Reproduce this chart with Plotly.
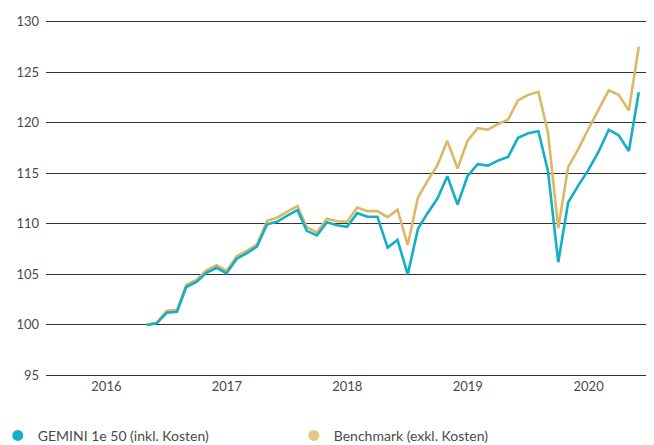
import pandas as pd
import plotly.graph_objects as go

# Monthly index values (start = 100), Nov 2016 .. Dec 2020
months = pd.date_range("2016-11-01", periods=50, freq="MS")

gemini = [100.0, 100.15, 101.2, 101.3, 103.75, 104.25, 105.15, 105.65, 105.1, 106.55,
          107.1, 107.75, 109.95, 110.2, 110.8, 111.35, 109.3, 108.85, 110.15, 109.85,
          109.7, 111.05, 110.7, 110.7, 107.65, 108.4, 105.0, 109.5, 111.0, 112.5,
          114.7, 111.9, 114.7, 115.9, 115.75, 116.25, 116.6, 118.5, 118.95, 119.15,
          115.2, 106.2, 112.1, 113.8, 115.3, 117.1, 119.3, 118.75, 117.2, 123.0]

benchmark = [100.0, 100.2, 101.4, 101.5, 103.95, 104.45, 105.4, 105.9, 105.35, 106.8,
             107.35, 107.95, 110.3, 110.6, 111.2, 111.75, 109.65, 109.15, 110.5, 110.25,
             110.2, 111.6, 111.25, 111.25, 110.65, 111.4, 107.9, 112.6, 114.2, 115.8,
             118.2, 115.45, 118.2, 119.45, 119.3, 119.85, 120.3, 122.2, 122.75, 123.05,
             119.0, 109.55, 115.6, 117.4, 119.35, 121.2, 123.2, 122.75, 121.2, 127.5]

year_labels = ["2016", "2017", "2018", "2019", "2020"]
year_ticks = [f"{y}-07-02" for y in year_labels]
y_ticks = [95, 100, 105, 110, 115, 120, 125, 130]

names = ["GEMINI 1e 50 (inkl. Kosten)", "Benchmark (exkl. Kosten)"]
line_colors = ["#13afc6", "#dcb866"]
dot_colors = ["#13afc6", "#e2c887"]

fig = go.Figure()
fig.add_trace(go.Scatter(x=months, y=benchmark, mode="lines", showlegend=False,
                         line=dict(color=line_colors[1], width=2.6), name=names[1]))
fig.add_trace(go.Scatter(x=months, y=gemini, mode="lines", showlegend=False,
                         line=dict(color=line_colors[0], width=2.6), name=names[0]))
# legend entries (circle markers)
for n, c in zip(names, dot_colors):
    fig.add_trace(go.Scatter(x=[None], y=[None], mode="markers", name=n,
                             marker=dict(color=c, size=11, symbol="circle")))

# page has an 8px body margin, so the figure is sized/offset to compensate
fig.update_layout(
    width=646, height=437,
    margin=dict(l=38, r=5, t=12, b=68, autoexpand=False),
    paper_bgcolor="white", plot_bgcolor="white",
    font=dict(family="Lato, Noto Sans, sans-serif", size=13, color="#4a4a4a"),
    xaxis=dict(range=["2016-01-01", "2021-01-01"], tickvals=year_ticks, ticktext=year_labels,
               showgrid=False, zeroline=False, showline=False, ticks="",
               tickfont=dict(size=13, color="#4a4a4a")),
    yaxis=dict(range=[94.85, 130.15], tickvals=y_ticks, showgrid=True, gridcolor="#333333",
               gridwidth=1.2, zeroline=False, showline=False, ticks="",
               tickfont=dict(size=13, color="#4a4a4a"), ticklabelstandoff=6),
    legend=dict(orientation="h", x=-0.08, xanchor="left", y=-0.12, yanchor="top",
                itemwidth=30, entrywidth=251, entrywidthmode="pixels",
                font=dict(size=14, color="#4a4a4a"), bgcolor="rgba(0,0,0,0)"),
)

fig.write_html("out.html")
